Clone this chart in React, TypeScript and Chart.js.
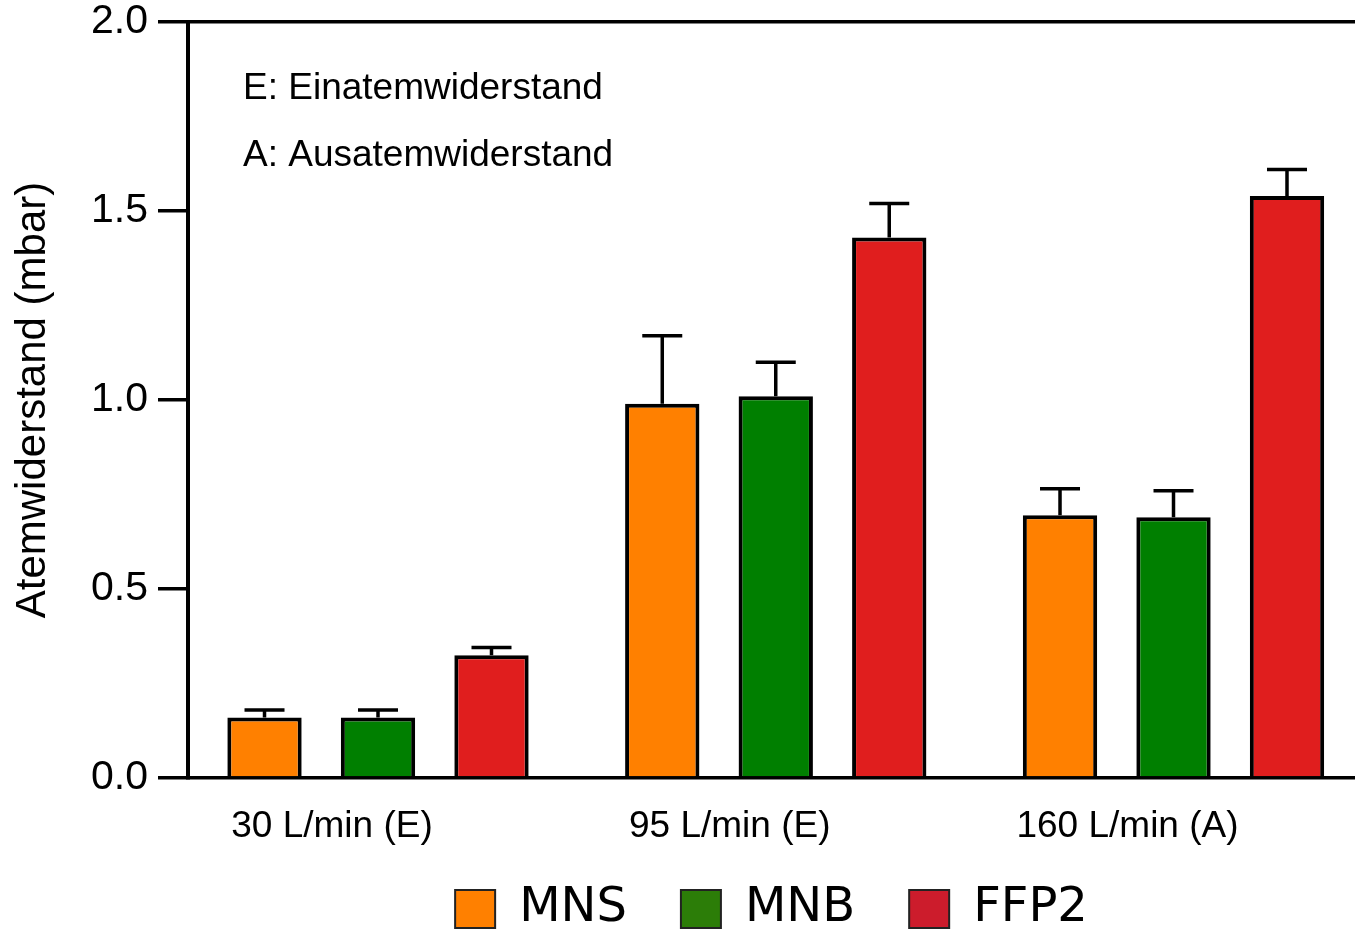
import { useEffect, useRef } from "react";
import { Chart, registerables } from "chart.js";

Chart.register(...registerables);

// Flow-rate groups shown along the x axis
const groupLabels = ["30 L/min (E)", "95 L/min (E)", "160 L/min (A)"];

// Mask types
const seriesNames = ["MNS", "MNB", "FFP2"];

// Mean breathing resistance per group (mbar)
const mnsValues = [0.16, 0.99, 0.695];
const mnbValues = [0.16, 1.01, 0.69];
const ffp2Values = [0.325, 1.43, 1.54];

// Upper error (standard deviation) per group (mbar)
const mnsErrors = [0.02, 0.18, 0.07];
const mnbErrors = [0.02, 0.09, 0.07];
const ffp2Errors = [0.02, 0.09, 0.07];

// Y axis tick values
const yTicks = [0, 0.5, 1.0, 1.5, 2.0];

// Explanatory notes inside the plot
const notes = ["E: Einatemwiderstand", "A: Ausatemwiderstand"];

const barColors = ["#FF8000", "#007F00", "#E01E1E"];
const legendColors = ["#FF8000", "#2C7D08", "#CC1C2C"];
const seriesValues = [mnsValues, mnbValues, ffp2Values];
const seriesErrors = [mnsErrors, mnbErrors, ffp2Errors];

const SANS = "'Liberation Sans', Arial, sans-serif";

const errorBarPlugin = {
  id: "errorBars",
  afterDatasetsDraw(chart: any) {
    const { ctx } = chart;
    const yScale = chart.scales.y;
    ctx.save();
    ctx.strokeStyle = "#000";
    ctx.lineWidth = 3.5;
    chart.data.datasets.forEach((ds: any, di: number) => {
      const meta = chart.getDatasetMeta(di);
      const errs = seriesErrors[di];
      meta.data.forEach((bar: any, i: number) => {
        const v = ds.data[i].y;
        const yBase = yScale.getPixelForValue(v);
        const yTop = yScale.getPixelForValue(v + errs[i]);
        ctx.beginPath();
        ctx.moveTo(bar.x, yBase);
        ctx.lineTo(bar.x, yTop);
        ctx.moveTo(bar.x - 20, yTop);
        ctx.lineTo(bar.x + 20, yTop);
        ctx.stroke();
      });
    });
    ctx.restore();
  },
};

const notesPlugin = {
  id: "notes",
  afterDraw(chart: any) {
    const { ctx, chartArea } = chart;
    ctx.save();
    ctx.fillStyle = "#000";
    ctx.font = `37px ${SANS}`;
    ctx.textBaseline = "alphabetic";
    ctx.textAlign = "left";
    notes.forEach((t, i) => {
      ctx.fillText(t, chartArea.left + 55, chartArea.top + 77 + i * 67);
    });
    ctx.restore();
  },
};

export default function App() {
  const canvasRef = useRef<HTMLCanvasElement | null>(null);

  useEffect(() => {
    const canvas = canvasRef.current;
    if (!canvas) return;

    Chart.defaults.font.family = SANS;
    Chart.defaults.color = "#000";

    const chart = new Chart(canvas, {
      type: "bar",
      data: {
        datasets: seriesNames.map((name, si) => ({
          label: name,
          data: seriesValues[si].map((v, i) => ({ x: i, y: v })),
          backgroundColor: barColors[si],
          borderColor: "#000",
          borderWidth: 4,
          borderSkipped: "start",
          categoryPercentage: 0.856,
          barPercentage: 0.655,
        })),
      },
      options: {
        responsive: false,
        animation: false,
        layout: { padding: { top: 22, right: 0, bottom: -14, left: 0 } },
        plugins: {
          tooltip: { enabled: false },
          legend: {
            position: "bottom",
            fullSize: false,
            labels: {
              boxWidth: 40,
              boxHeight: 38,
              padding: 54,
              color: "#000",
              font: { family: "'DejaVu Sans', sans-serif", size: 48 },
              generateLabels: () =>
                seriesNames.map((name, i) => ({
                  text: name,
                  fillStyle: legendColors[i],
                  strokeStyle: "#222",
                  lineWidth: 2,
                  hidden: false,
                  datasetIndex: i,
                  fontColor: "#000",
                })),
            },
          },
        },
        scales: {
          x: {
            type: "linear",
            offset: false,
            min: -0.4777,
            max: 2.4563,
            afterBuildTicks: (scale: any) => {
              scale.ticks = groupLabels.map((_, i) => ({ value: i }));
            },
            afterFit: (scale: any) => {
              scale.height = 53;
              scale.paddingLeft = 0;
              scale.paddingRight = 0;
            },
            grid: { display: false, drawTicks: false },
            border: { display: true, color: "#000", width: 3.5 },
            ticks: {
              mirror: true,
              padding: -71,
              labelOffset: -46,
              color: "#000",
              font: { size: 37 },
              maxRotation: 0,
              autoSkip: false,
              callback: (v: any) => groupLabels[v] ?? "",
            },
          },
          y: {
            min: 0,
            max: 2,
            afterBuildTicks: (scale: any) => {
              scale.ticks = yTicks.map((v) => ({ value: v }));
            },
            afterFit: (scale: any) => {
              scale.width = 188;
              scale.paddingTop = 0;
              scale.paddingBottom = 0;
            },
            grid: {
              drawTicks: true,
              tickLength: 30,
              tickColor: "#000",
              tickWidth: 3.5,
              lineWidth: 3.5,
              color: (c: any) =>
                c.tick && c.tick.value === 2 ? "#000" : "rgba(0,0,0,0)",
            },
            border: { display: true, color: "#000", width: 4 },
            ticks: {
              padding: 10,
              color: "#000",
              font: { size: 41, lineHeight: 1.0 },
              callback: (v: any) => Number(v).toFixed(1),
            },
            title: {
              display: true,
              text: "Atemwiderstand (mbar)",
              color: "#000",
              font: { size: 42, lineHeight: 1.2 },
              padding: { top: 8, bottom: 0 },
            },
          },
        },
      },
      plugins: [errorBarPlugin, notesPlugin],
    } as any);

    return () => chart.destroy();
  }, []);

  return (
    <div
      style={{
        position: "absolute",
        left: 0,
        top: 0,
        width: 1355,
        height: 929,
        background: "#fff",
      }}
    >
      <canvas ref={canvasRef} width={1355} height={929} style={{ display: "block" }} />
    </div>
  );
}
